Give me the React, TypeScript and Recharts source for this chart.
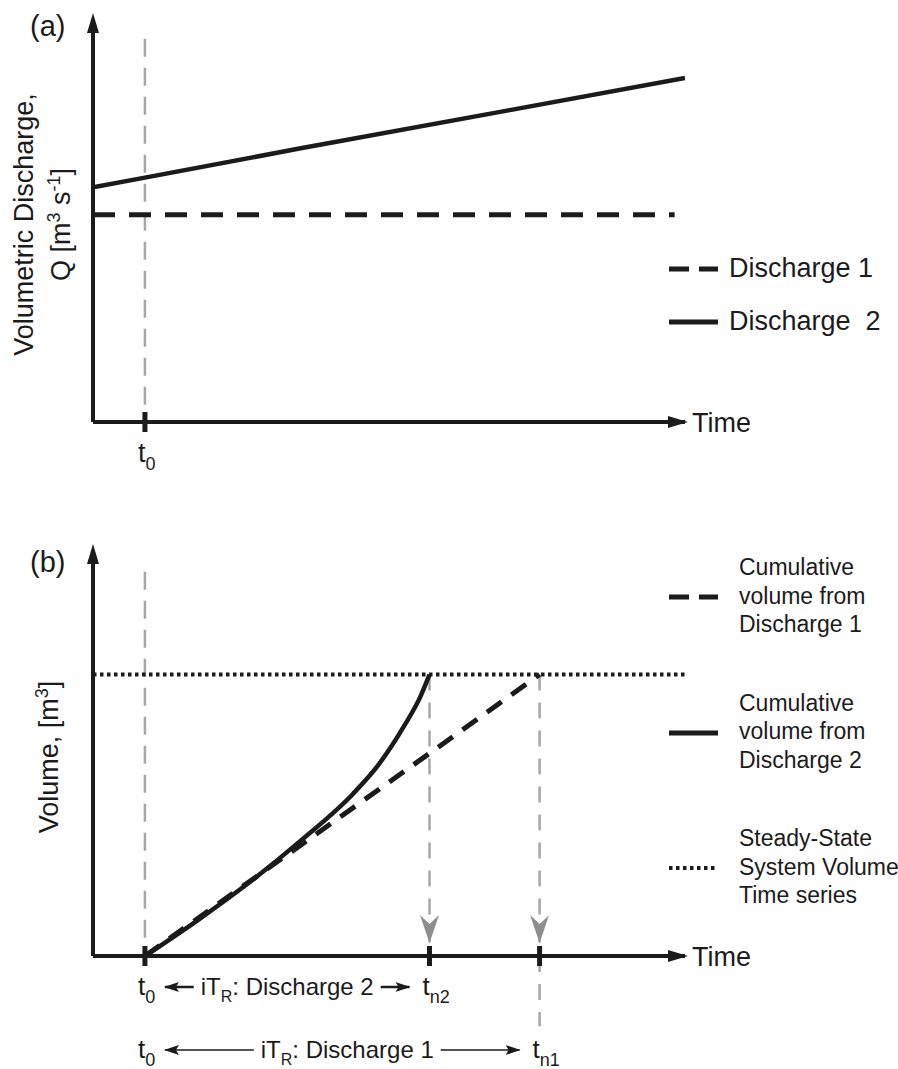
import React from 'react';
import { LineChart, Line, XAxis, YAxis, ReferenceLine, Legend } from 'recharts';

const FONT = '"Liberation Sans", Arial, Helvetica, sans-serif';
const INK = '#1b1b1b';
const GREY = '#a6a6a6';
const GREY_HEAD = '#8e8e8e';

// shared time axis
const tMax = 11.4;
const t0 = 1;
const tn2 = 6.48;
const tn1 = 8.6;

// (a) volumetric discharge Q
const qMax = 100;
const q1Times = [0, 11.2];
const q1Values = [53, 53];
const q2Times = [0, 1, 4, 8, 11.4];
const q2Values = [60, 62.5, 70, 79.7, 88];

// (b) cumulative volume V
const vMax = 140;
const v1Times = [1, 6.48, 8.6];
const v1Values = [0, 72, 100];
const v2Times = [1, 2, 3, 4, 5, 5.5, 6, 6.3, 6.48];
const v2Values = [0, 12.5, 26, 41, 57.5, 68, 82, 92, 100];
const ssTimes = [0, 11.4];
const ssValues = [100, 100];

// extents of the grey guide lines
const qGuideTop = 98;
const vGuideTop = 136.5;
const vArrowTip = 4.6;
const vGuideBottom = -25;

const legendA = ['Discharge 1', 'Discharge  2'];
const legendB = [
  'Cumulative\nvolume from\nDischarge 1',
  'Cumulative\nvolume from\nDischarge 2',
  'Steady-State\nSystem Volume\nTime series',
];
const intervalEnds = [tn2, tn1];
const intervalNames = ['Discharge 2', 'Discharge 1'];
const intervalSubs = ['n2', 'n1'];

const rows = (key: string, ts: number[], vs: number[]) => ts.map((t, i) => ({ t, [key]: vs[i] }));

const keyStyle: Record<string, { dash?: string; width: number }> = {
  q1: { dash: '20 10', width: 5 },
  q2: { width: 5 },
  v1: { dash: '20 10', width: 5 },
  v2: { width: 5 },
  ss: { dash: '3.5 3.5', width: 4 },
};

let ctx: CanvasRenderingContext2D | null = null;
const measure = (s: string, size: number) => {
  if (!ctx) ctx = document.createElement('canvas').getContext('2d');
  if (!ctx) return s.length * size * 0.52;
  ctx.font = `${size}px "Liberation Sans"`;
  return ctx.measureText(s).width;
};

const Markers = () => (
  <svg width={0} height={0} style={{ position: 'absolute' }}>
    <defs>
      <marker id="axY" markerUnits="userSpaceOnUse" markerWidth={20} markerHeight={12} viewBox="0 0 20 12" refX={2} refY={6} orient="auto-start-reverse">
        <path d="M0,0 L20,6 L0,12 z" fill={INK} />
      </marker>
      <marker id="axX" markerUnits="userSpaceOnUse" markerWidth={20} markerHeight={12} viewBox="0 0 20 12" refX={17} refY={6} orient="auto">
        <path d="M0,0 L20,6 L0,12 z" fill={INK} />
      </marker>
      <marker id="greyHead" markerUnits="userSpaceOnUse" markerWidth={28} markerHeight={19} viewBox="0 0 28 19" refX={28} refY={9.5} orient="auto">
        <path d="M0,0 L28,9.5 L0,19 L9,9.5 z" fill={GREY_HEAD} />
      </marker>
      <marker id="rowHead" markerUnits="userSpaceOnUse" markerWidth={15} markerHeight={10} viewBox="0 0 15 10" refX={14} refY={5} orient="auto">
        <path d="M0,0 L15,5 L0,10 L3,5 z" fill={INK} />
      </marker>
    </defs>
  </svg>
);

// text with {superscript} parts
function Rich({ s }: { s: string }) {
  const parts = s.split(/(\{[^}]*\})/).filter(Boolean);
  let up = false;
  return (
    <>
      {parts.map((p, i) => {
        if (p.startsWith('{')) {
          up = true;
          return <tspan key={i} dy={-10} fontSize={18}>{p.slice(1, -1)}</tspan>;
        }
        const dy = up ? 10 : 0;
        up = false;
        return <tspan key={i} dy={dy}>{p}</tspan>;
      })}
    </>
  );
}

function AxisTitle(props: any) {
  const { viewBox, lines, baselines } = props;
  const cy = viewBox.y + viewBox.height / 2 - 2;
  return (
    <g>
      {lines.map((ln: string, i: number) => (
        <text key={i} x={baselines[i]} y={cy} transform={`rotate(-90 ${baselines[i]} ${cy})`} textAnchor="middle"
          fontSize={27} fontFamily={FONT} fill={INK}>
          <Rich s={ln} />
        </text>
      ))}
    </g>
  );
}

function TimeLabel(props: any) {
  const { viewBox } = props;
  return (
    <text x={viewBox.x + viewBox.width + 7} y={viewBox.y + 9.5} fontSize={27} fontFamily={FONT} fill={INK}>Time</text>
  );
}

function TSym({ x, y, sub, size = 26 }: { x: number; y: number; sub: string; size?: number }) {
  return (
    <text x={x - 7} y={y} fontSize={size} fontFamily={FONT} fill={INK}>
      t<tspan dy={8} fontSize={18}>{sub}</tspan>
    </text>
  );
}

function TickMark(props: any) {
  const { x, y, withLabel } = props;
  return (
    <g>
      <line x1={x} x2={x} y1={y - 10} y2={y + 10} stroke={INK} strokeWidth={5} />
      {withLabel && <TSym x={x} y={y + 40} sub="0" size={27} />}
    </g>
  );
}

function IntervalRow(props: any) {
  const { x1, y1, x2, name, sub, row } = props;
  const y = y1 + (row === 0 ? 39 : 102);
  const mid = (x1 + x2) / 2 + (row === 0 ? 0 : 5);
  const w = measure('iT', 24) + measure('R', 16) + measure(': ' + name, 24);
  const left = mid - w / 2;
  const right = mid + w / 2;
  const sw = row === 0 ? 2.5 : 1.5;
  return (
    <g>
      <TSym x={x1} y={y} sub="0" />
      <line x1={left - 7} y1={y - 8} x2={x1 + 20} y2={y - 8} stroke={INK} strokeWidth={sw} markerEnd="url(#rowHead)" />
      <text x={left} y={y} fontSize={24} fontFamily={FONT} fill={INK}>
        iT<tspan dy={7} fontSize={16}>R</tspan><tspan dy={-7}>{': ' + name}</tspan>
      </text>
      <line x1={right + 7} y1={y - 8} x2={x2 - 20} y2={y - 8} stroke={INK} strokeWidth={sw} markerEnd="url(#rowHead)" />
      <TSym x={x2} y={y} sub={sub} />
    </g>
  );
}

function KeyList(props: any) {
  const { payload = [], order, fontSize, lineHeight, gap, sampleY, textLeft } = props;
  const items = [...payload].sort((a: any, b: any) => order.indexOf(a.value) - order.indexOf(b.value));
  return (
    <div style={{ fontFamily: FONT, color: INK, fontSize, lineHeight: `${lineHeight}px`, whiteSpace: 'pre', textAlign: 'left' }}>
      {items.map((e: any, i: number) => {
        const s = keyStyle[e.dataKey] || { width: 4 };
        return (
          <div key={e.value} style={{ position: 'relative', marginTop: i ? gap : 0, paddingLeft: textLeft }}>
            <svg width={49} height={12} style={{ position: 'absolute', left: 0, top: sampleY - 6 }}>
              <line x1={0} x2={49} y1={6} y2={6} stroke={INK} strokeWidth={s.width} strokeDasharray={s.dash} />
            </svg>
            {e.value}
          </div>
        );
      })}
    </div>
  );
}

const PanelTag = ({ text, top }: { text: string; top: number }) => (
  <div style={{ position: 'absolute', left: 30, top, fontSize: 29, lineHeight: '29px', fontFamily: FONT, color: INK }}>{text}</div>
);

const line = { dot: false, activeDot: false, isAnimationActive: false, type: 'linear' as const };

export default function App() {
  return (
    <div style={{ position: 'absolute', left: 0, top: 0, width: 898, height: 1069, background: '#fff', fontFamily: FONT }}>
      <Markers />
      <div style={{ position: 'absolute', left: 0, top: 0 }}>
        <LineChart width={898} height={490} margin={{ top: 31, right: 213, bottom: 0, left: 0 }}>
          <XAxis type="number" dataKey="t" domain={[0, tMax]} ticks={[t0]} interval={0} allowDataOverflow
            height={68} tickSize={0} tickMargin={0} tickLine={false}
            axisLine={{ stroke: INK, strokeWidth: 4, markerEnd: 'url(#axX)' }}
            tick={<TickMark withLabel />} label={<TimeLabel />} />
          <YAxis type="number" domain={[0, qMax]} allowDataOverflow width={93} tick={false} tickLine={false}
            axisLine={{ stroke: INK, strokeWidth: 4, markerStart: 'url(#axY)' }}
            label={<AxisTitle lines={['Volumetric Discharge,', 'Q [m{3} s{-1}]']} baselines={[33, 70]} />} />
          <ReferenceLine segment={[{ x: t0, y: qGuideTop }, { x: t0, y: 0 }]} stroke={GREY} strokeWidth={2.5}
            strokeDasharray="18 11" ifOverflow="visible" />
          <Line {...line} data={rows('q1', q1Times, q1Values)} dataKey="q1" name={legendA[0]} stroke={INK}
            strokeWidth={5} strokeDasharray="22 14" />
          <Line {...line} data={rows('q2', q2Times, q2Values)} dataKey="q2" name={legendA[1]} stroke={INK}
            strokeWidth={4.5} />
          <Legend layout="horizontal" verticalAlign="middle" align="center"
            wrapperStyle={{ left: 669, top: 242, width: 229, height: 'auto' }}
            content={<KeyList order={legendA} fontSize={27} lineHeight={53} gap={0} sampleY={26.5} textLeft={60} />} />
        </LineChart>
      </div>
      <div style={{ position: 'absolute', left: 0, top: 500 }}>
        <LineChart width={898} height={569} margin={{ top: 62, right: 213, bottom: 0, left: 0 }}>
          <XAxis type="number" dataKey="t" domain={[0, tMax]} ticks={[t0, tn2, tn1]} interval={0} allowDataOverflow
            height={113} tickSize={0} tickMargin={0} tickLine={false}
            axisLine={{ stroke: INK, strokeWidth: 4, markerEnd: 'url(#axX)' }}
            tick={<TickMark />} label={<TimeLabel />} />
          <YAxis type="number" domain={[0, vMax]} allowDataOverflow width={93} tick={false} tickLine={false}
            axisLine={{ stroke: INK, strokeWidth: 4, markerStart: 'url(#axY)' }}
            label={<AxisTitle lines={['Volume, [m{3}]']} baselines={[58]} />} />
          <ReferenceLine segment={[{ x: t0, y: vGuideTop }, { x: t0, y: 0 }]} stroke={GREY} strokeWidth={2.5}
            strokeDasharray="18 11" ifOverflow="visible" />
          {intervalEnds.map((te) => (
            <ReferenceLine key={'g' + te} segment={[{ x: te, y: ssValues[0] }, { x: te, y: vArrowTip }]} stroke={GREY}
              strokeWidth={2.5} strokeDasharray="16 12" ifOverflow="visible" markerEnd="url(#greyHead)" />
          ))}
          <ReferenceLine segment={[{ x: tn1, y: 0 }, { x: tn1, y: vGuideBottom }]} stroke={GREY} strokeWidth={2.5}
            strokeDasharray="16 12" ifOverflow="visible" />
          {intervalEnds.map((te, i) => (
            <ReferenceLine key={'r' + te} segment={[{ x: t0, y: 0 }, { x: te, y: 0 }]} ifOverflow="visible"
              shape={(p: any) => <IntervalRow {...p} name={intervalNames[i]} sub={intervalSubs[i]} row={i} />} />
          ))}
          <Line {...line} data={rows('ss', ssTimes, ssValues)} dataKey="ss" name={legendB[2]} stroke={INK}
            strokeWidth={4} strokeDasharray="3.5 3.5" />
          <Line {...line} data={rows('v1', v1Times, v1Values)} dataKey="v1" name={legendB[0]} stroke={INK}
            strokeWidth={5} strokeDasharray="18 12" />
          <Line {...line} type="monotone" data={rows('v2', v2Times, v2Values)} dataKey="v2" name={legendB[1]}
            stroke={INK} strokeWidth={4.5} />
          <Legend layout="horizontal" verticalAlign="middle" align="center"
            wrapperStyle={{ left: 669, top: 53, width: 229, height: 'auto' }}
            content={<KeyList order={legendB} fontSize={23} lineHeight={28.5} gap={50} sampleY={44} textLeft={70} />} />
        </LineChart>
      </div>
      <PanelTag text="(a)" top={11.5} />
      <PanelTag text="(b)" top={547.5} />
    </div>
  );
}
